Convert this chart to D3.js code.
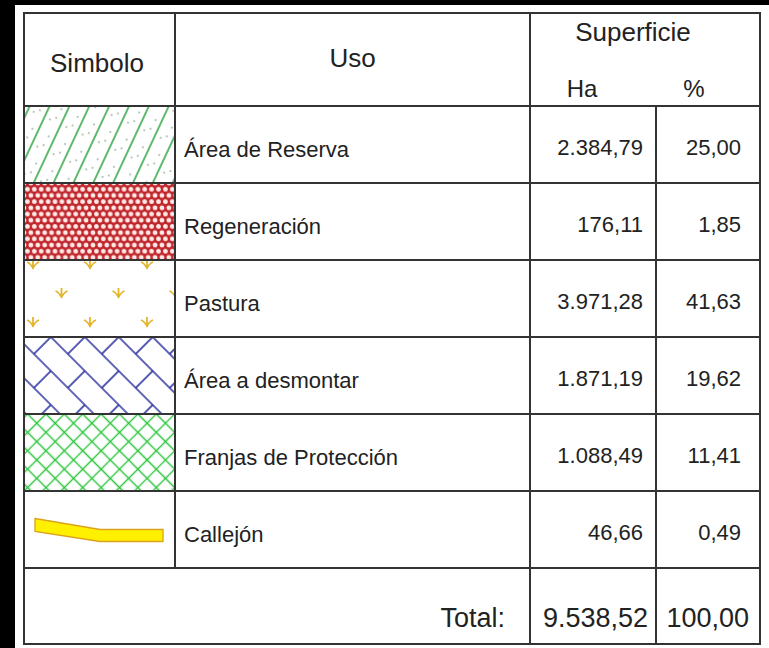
<!DOCTYPE html>
<html>
<head>
<meta charset="utf-8">
<script src="https://cdn.jsdelivr.net/npm/d3@7"></script>
<style>
  body { margin: 0; background: #000; }
  svg { display: block; }
  text { font-family: "Liberation Sans", Arial, sans-serif; fill: #222; }
</style>
</head>
<body>
<div id="chart"></div>
<script>
// table data
const usos = ["Área de Reserva", "Regeneración", "Pastura", "Área a desmontar", "Franjas de Protección", "Callejón"]
const simbolos = ["reserva", "regeneracion", "pastura", "desmontar", "franjas", "callejon"]
const hectareas = [2384.79, 176.11, 3971.28, 1871.19, 1088.49, 46.66]
const porcentajes = [25.00, 1.85, 41.63, 19.62, 11.41, 0.49]
const totalHa = 9538.52
const totalPct = 100.00
const headers = ["Simbolo", "Uso", "Superficie", "Ha", "%"]

const width = 769
const height = 648

const locale = d3.formatLocale({decimal: ",", thousands: ".", grouping: [3], currency: ["", ""]})
const fmt = locale.format(",.2f")

// column edges of the table
const cols = {left: 24, sym: 175, uso: 530, ha: 656, right: 760}
const tableTop = 13
const headBottom = 106
const bodyBottom = 568
const tableBottom = 644

const y = d3.scaleBand().domain(usos).range([headBottom, bodyBottom])

const svg = d3.select("#chart")
  .append("svg")
    .attr("width", width)
    .attr("height", height)

svg.append("rect")
  .attr("x", 15).attr("y", 5)
  .attr("width", width - 15).attr("height", height - 5)
  .attr("fill", "#fff")

const defs = svg.append("defs")

// --- patterns for the symbol column (user space = the row group, so y offset is 0)
// strokes kept away from tile edges so they don't get clipped in half
const pReserva = defs.append("pattern")
  .attr("id", "reserva")
  .attr("patternUnits", "userSpaceOnUse")
  .attr("width", 18).attr("height", 30)
  .attr("patternTransform", "rotate(25)")
pReserva.append("line")
  .attr("x1", 9).attr("y1", -1).attr("x2", 9).attr("y2", 31)
  .attr("stroke", "#36a847").attr("stroke-width", 1.6)
pReserva.selectAll("circle")
  .data([[3, 7], [15, 21], [2, 17]])
  .join("circle")
    .attr("cx", d => d[0]).attr("cy", d => d[1]).attr("r", 1)
    .attr("fill", "#a3b8a6")

const pRegen = defs.append("pattern")
  .attr("id", "regeneracion")
  .attr("patternUnits", "userSpaceOnUse")
  .attr("x", cols.left).attr("y", 0)
  .attr("width", 6.9).attr("height", 12.4)
pRegen.append("rect").attr("width", 6.9).attr("height", 12.4).attr("fill", "#c0272d")
pRegen.selectAll("circle")
  .data([[0, 0], [6.9, 0], [3.45, 6.2], [0, 12.4], [6.9, 12.4]])
  .join("circle")
    .attr("cx", d => d[0]).attr("cy", d => d[1]).attr("r", 2.4)
    .attr("fill", "#ffe8e6")

const pPastura = defs.append("pattern")
  .attr("id", "pastura")
  .attr("patternUnits", "userSpaceOnUse")
  .attr("x", cols.left).attr("y", 0)
  .attr("width", 57).attr("height", 58)
pPastura.selectAll("path")
  .data([[9, 5], [37.5, 34], [66, 5], [9, 63], [66, 63]])
  .join("path")
    .attr("transform", d => `translate(${d[0]},${d[1]})`)
    .attr("d", "M-6,-3Q-3,-2 0,3Q3,-2 6,-3M0,-6L0,4")
    .attr("fill", "none")
    .attr("stroke", "#e3b52c").attr("stroke-width", 1.8)

const pDesm = defs.append("pattern")
  .attr("id", "desmontar")
  .attr("patternUnits", "userSpaceOnUse")
  .attr("x", cols.left).attr("y", 0)
  .attr("width", 48).attr("height", 48)
  .attr("patternTransform", "rotate(45)")
pDesm.append("path")
  .attr("d", "M0,12H48M0,36H48M12,12V36M36,36V48M36,0V12")
  .attr("fill", "none")
  .attr("stroke", "#2c32a0").attr("stroke-width", 1.6)

const pFranjas = defs.append("pattern")
  .attr("id", "franjas")
  .attr("patternUnits", "userSpaceOnUse")
  .attr("width", 13).attr("height", 13)
  .attr("patternTransform", "rotate(45)")
pFranjas.append("path")
  .attr("d", "M0,6.5H13M6.5,0V13")
  .attr("fill", "none")
  .attr("stroke", "#30c640").attr("stroke-width", 1.4)

// --- body rows
const rows = svg.append("g")
  .selectAll("g")
  .data(usos)
  .join("g")
    .attr("transform", d => `translate(0,${y(d)})`)

rows.filter((d, i) => simbolos[i] !== "callejon")
  .append("rect")
    .attr("x", cols.left)
    .attr("width", cols.sym - cols.left)
    .attr("height", y.bandwidth())
    .attr("fill", d => `url(#${simbolos[usos.indexOf(d)]})`)

// callejón: yellow strip
const yc = y.bandwidth() / 2
rows.filter(d => d === "Callejón")
  .append("path")
    .attr("d", d3.line()([[35, yc - 11], [100, yc], [163, yc], [163, yc + 12], [100, yc + 12], [35, yc + 2]]) + "Z")
    .attr("fill", "#fff000")
    .attr("stroke", "#dca21c")
    .attr("stroke-width", 1.3)

rows.append("text")
  .attr("x", cols.sym + 9)
  .attr("y", y.bandwidth() / 2 + 12)
  .attr("font-size", 22)
  .text(d => d)

rows.append("text")
  .attr("x", cols.ha - 13)
  .attr("y", y.bandwidth() / 2 + 10)
  .attr("text-anchor", "end")
  .attr("font-size", 22)
  .text((d, i) => fmt(hectareas[i]))

rows.append("text")
  .attr("x", cols.right - 19)
  .attr("y", y.bandwidth() / 2 + 10)
  .attr("text-anchor", "end")
  .attr("font-size", 22)
  .text((d, i) => fmt(porcentajes[i]))

// --- header
const head = svg.append("g")
head.append("text").attr("x", 97).attr("y", 72).attr("text-anchor", "middle")
  .attr("font-size", 26).text(headers[0])
head.append("text").attr("x", (cols.sym + cols.uso) / 2).attr("y", 67).attr("text-anchor", "middle")
  .attr("font-size", 26).text(headers[1])
head.append("text").attr("x", 633).attr("y", 41).attr("text-anchor", "middle")
  .attr("font-size", 26).text(headers[2])
head.append("text").attr("x", 582).attr("y", 97).attr("text-anchor", "middle")
  .attr("font-size", 24).text(headers[3])
head.append("text").attr("x", 694).attr("y", 97).attr("text-anchor", "middle")
  .attr("font-size", 24).text(headers[4])

// --- total row
const tot = svg.append("g")
tot.append("text").attr("x", 505).attr("y", 627).attr("text-anchor", "end")
  .attr("font-size", 27).text("Total:")
tot.append("text").attr("x", cols.ha - 8).attr("y", 627).attr("text-anchor", "end")
  .attr("font-size", 27).text(fmt(totalHa))
tot.append("text").attr("x", cols.right - 11).attr("y", 627).attr("text-anchor", "end")
  .attr("font-size", 27).text(fmt(totalPct))

// --- grid lines
const grid = svg.append("g")
  .attr("stroke", "#333")
  .attr("stroke-width", 2)
  .attr("fill", "none")

grid.append("rect")
  .attr("x", cols.left).attr("y", tableTop)
  .attr("width", cols.right - cols.left).attr("height", tableBottom - tableTop)

const hLines = [headBottom, ...usos.slice(1).map(d => y(d)), bodyBottom]
grid.selectAll("line.h")
  .data(hLines)
  .join("line")
    .attr("class", "h")
    .attr("x1", cols.left).attr("x2", cols.right)
    .attr("y1", d => d).attr("y2", d => d)

grid.append("line").attr("x1", cols.sym).attr("x2", cols.sym).attr("y1", tableTop).attr("y2", bodyBottom)
grid.append("line").attr("x1", cols.uso).attr("x2", cols.uso).attr("y1", tableTop).attr("y2", tableBottom)
grid.append("line").attr("x1", cols.ha).attr("x2", cols.ha).attr("y1", headBottom).attr("y2", tableBottom)
</script>
</body>
</html>
